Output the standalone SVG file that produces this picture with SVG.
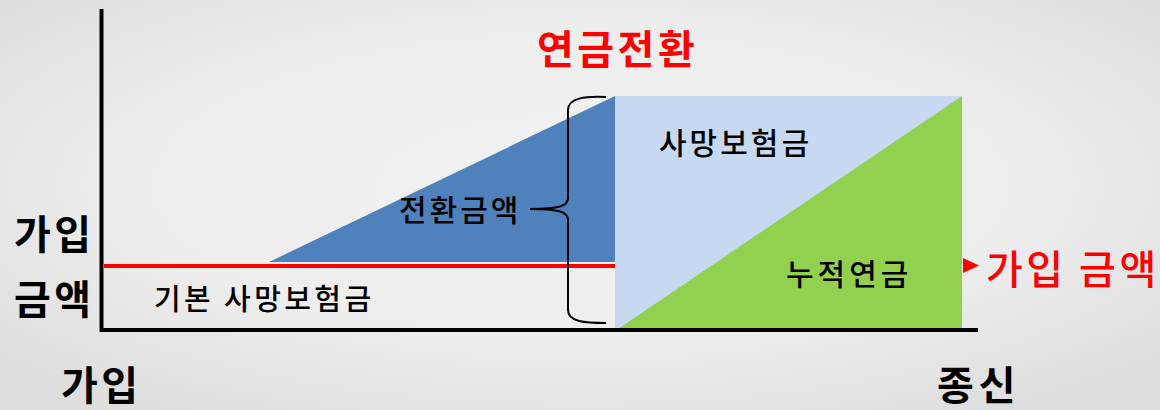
<svg xmlns="http://www.w3.org/2000/svg" width="1160" height="410" viewBox="0 0 1160 410">
<defs>
<radialGradient id="bg" cx="50%" cy="45%" r="65%">
<stop offset="0" stop-color="#F2F2F2"/>
<stop offset="0.6" stop-color="#EDEDED"/>
<stop offset="1" stop-color="#DEDEDE"/>
</radialGradient>
</defs>
<style>
text{font-family:"Malgun Gothic","Noto Sans CJK KR","Noto Sans",sans-serif;}
.blk{fill:#000;}
.red{fill:#FF0000;}
.big{font-size:40px;font-weight:bold;letter-spacing:3.5px;}
.mid{font-size:30px;font-weight:500;letter-spacing:3px;}
.axis{stroke:#000;stroke-width:4;fill:none;}
</style>
<rect width="1160" height="410" fill="url(#bg)"/>
<g id="chart-areas">
<polygon id="blue-wedge" points="269,262 615,96 615,262" fill="#4F81BD"/>
<rect id="death-benefit-area" x="615" y="96" width="347" height="235" fill="#C6D9F1"/>
<polygon id="annuity-area" points="615,331 962,96 962,331" fill="#92D050"/>
</g>
<g id="connectors">
<line class="axis" x1="101.5" y1="9" x2="101.5" y2="332"/>
<line class="axis" x1="100" y1="330" x2="978" y2="330"/>
<line x1="104" y1="266" x2="615" y2="266" stroke="#FF0000" stroke-width="4"/>
<polygon points="963,258 979,265.5 963,273" fill="#FF0000"/>
<path d="M606,97 C585,96 568,98 568,110 L568,198 C568,206 560,209 530,209 C560,209 568,212 568,220 L568,310 C568,322 585,323 606,323" stroke="#000" stroke-width="2" fill="none"/>
</g>
<g id="title"><text class="red big" x="537" y="64">연금전환</text></g>
<g id="label-death"><text class="blk mid" x="659" y="154">사망보험금</text></g>
<g id="label-annuity"><text class="blk mid" x="786" y="285" style="letter-spacing:4px">누적연금</text></g>
<g id="label-conversion"><text class="blk mid" x="399" y="221">전환금액</text></g>
<g id="label-base"><text class="blk" style="font-size:29px;font-weight:500;letter-spacing:3.4px" x="154" y="310">기본 사망보험금</text></g>
<g id="y-label"><text class="blk big" x="14" y="249">가입</text><text class="blk big" x="14" y="314">금액</text></g>
<g id="x-start"><text class="blk big" x="61" y="400">가입</text></g>
<g id="x-end"><text class="blk big" x="937" y="400" style="letter-spacing:5px">종신</text></g>
<g id="amount-label"><text class="red" style="font-size:40px;font-weight:500;letter-spacing:3.5px" x="986" y="284">가입 금액</text></g>
</svg>
